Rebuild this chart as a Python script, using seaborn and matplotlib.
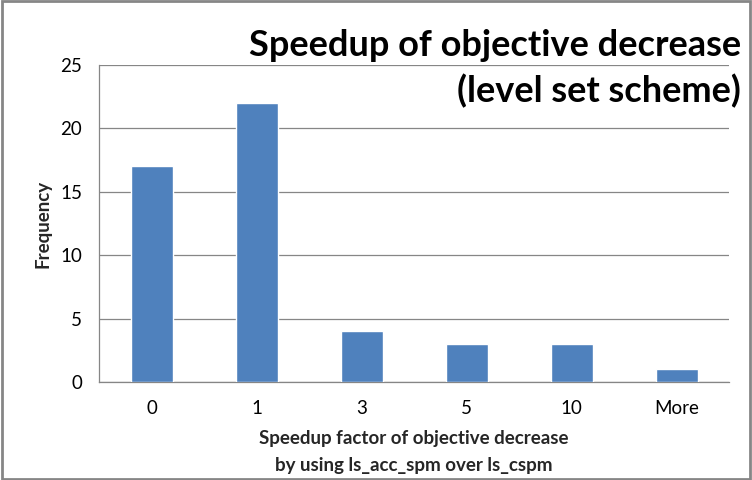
import matplotlib
matplotlib.use("Agg")
import matplotlib.pyplot as plt
import seaborn as sns
import pandas as pd

# histogram bins and counts
bins = ['0', '1', '3', '5', '10', 'More']
freq = [17, 22, 4, 3, 3, 1]

def main():
    sns.set_style("white")
    plt.rcParams['font.family'] = ['Lato', 'DejaVu Sans']

    df = pd.DataFrame({'bin': bins, 'freq': freq})

    fig = plt.figure(figsize=(7.52, 4.8), dpi=100)
    ax = fig.add_axes([99 / 752, 1 - 382 / 480, 630 / 752, 317 / 480])

    sns.barplot(data=df, x='bin', y='freq', color='#4F81BD', width=0.4,
                saturation=1, ax=ax, zorder=3)

    ax.set_ylim(0, 25)
    ax.set_yticks([0, 5, 10, 15, 20, 25])
    ax.set_xlim(-0.5, len(bins) - 0.5)
    ax.yaxis.grid(True, color='#868686', linewidth=0.9, zorder=0)

    for side in ['top', 'right']:
        ax.spines[side].set_visible(False)
    for side in ['left', 'bottom']:
        ax.spines[side].set_color('#868686')
        ax.spines[side].set_linewidth(0.9)

    # category tick labels without tick marks, boundary tick marks below
    ax.tick_params(axis='x', length=0, labelsize=13.5, pad=13, colors='black')
    ax.set_xticks([i + 0.5 for i in range(-1, len(bins))], minor=True)
    ax.tick_params(axis='x', which='minor', length=6, color='#868686', width=0.9)
    ax.tick_params(axis='y', length=6, color='#868686', width=0.9,
                   labelsize=13.5, pad=6, colors='black')

    ax.set_xlabel('Speedup factor of objective decrease\nby using ls_acc_spm over ls_cspm',
                  fontsize=13.5, fontweight='bold', labelpad=9, linespacing=1.75)
    ax.set_ylabel('Frequency', fontsize=13.5, fontweight='bold', labelpad=6)

    fig.text(741 / 752, 1 - 46 / 480, 'Speedup of objective decrease',
             ha='right', va='center', fontsize=26, fontweight='bold', color='black')
    fig.text(741 / 752, 1 - 91 / 480, '(level set scheme)',
             ha='right', va='center', fontsize=26, fontweight='bold', color='black')

    # grey frame around the whole chart
    fig.patches.append(plt.Rectangle((0.002, 0.003), 0.996, 0.994,
                                     transform=fig.transFigure, fill=False,
                                     edgecolor='#868686', linewidth=2))

    fig.savefig('out.png', dpi=100)

if __name__ == "__main__":
    main()
